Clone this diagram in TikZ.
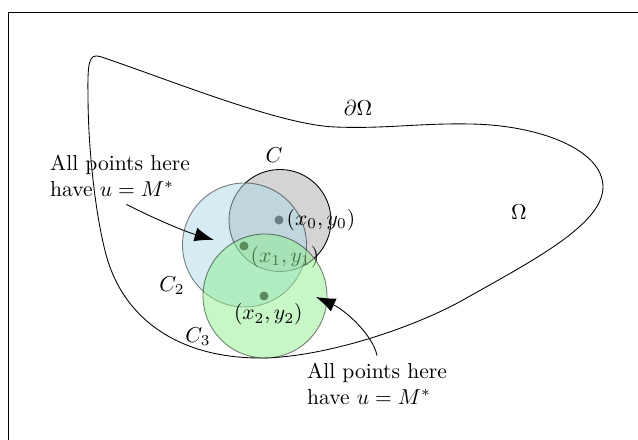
\documentclass[tikz,border=0pt]{standalone}
\usetikzlibrary{arrows.meta}
\definecolor{discgray}{gray}{0.83}
\definecolor{discblue}{RGB}{173,216,230}
\definecolor{discgreen}{RGB}{144,238,144}
\tikzset{
	disc/.style={draw opacity=0.5, fill opacity=0.5},
	dot/.style={fill=black!85},
	note/.style={align=left},
	pointer/.style={-{Latex[length=9pt,width=6.5pt]}},
}
\begin{document}
\begin{tikzpicture}[x=0.0163cm,y=-0.0163cm]
		\clip (0,0) rectangle (638,440);
		\draw (8.5,12.5) rectangle (700,500);
		% the domain and its boundary
		\draw (100,56.5) .. controls (170,80) and (280,125) .. (335,127)
			.. controls (385,129) and (420,123) .. (470,124)
			.. controls (540,125) and (603,150) .. (603,187)
			.. controls (603,225) and (530,262) .. (463,300)
			.. controls (409,330) and (320,358) .. (260,358)
			.. controls (180,358) and (125,320) .. (107,258)
			.. controls (96,220) and (88,150) .. (88,95)
			.. controls (87.5,62) and (89,53.5) .. (100,56.5) -- cycle;
		\node (bdry) at (358,108) {$\partial\Omega$};
		\node (omega) at (519,212) {$\Omega$};
		% the three discs
		\coordinate (pzero) at (279,220);
		\coordinate (pone) at (244,246);
		\coordinate (ptwo) at (264,296);
		\draw[fill=discgray] (280,220.5) circle (51);
		\fill[dot] (pzero) circle (4.5);
		\draw[disc, fill=discblue] (244.5,245) circle (62);
		\node[right] (lzero) at (pzero) {$(x_0,y_0)$};
		\fill[dot] (pone) circle (4.5);
		\node[anchor=west] (lone) at (243,257) {$(x_1,y_1)$};
		\fill[dot] (ptwo) circle (4.5);
		\draw[disc, fill=discgreen] (265,296) circle (62);
		\node[below, xshift=2pt] (ltwo) at (ptwo) {$(x_2,y_2)$};
		\node (lC) at (274,155) {$C$};
		\node (lCtwo) at (172,286) {$C_2$};
		\node (lCthree) at (198,337) {$C_3$};
		% the two remarks
		\node[note] (noteL) at (120,176) {All points here\\have $u=M^*$};
		\node[note] (noteR) at (377,384) {All points here\\have $u=M^*$};
		\coordinate (tipL) at (214,240);
		\coordinate (tipR) at (316,297);
		\draw[pointer] ([xshift=3pt]noteL.south) .. controls (145,214) and (180,230) .. (tipL);
		\draw[pointer] (noteR.north) .. controls (373,335) and (345,310) .. (tipR);
	\end{tikzpicture}
\end{document}
